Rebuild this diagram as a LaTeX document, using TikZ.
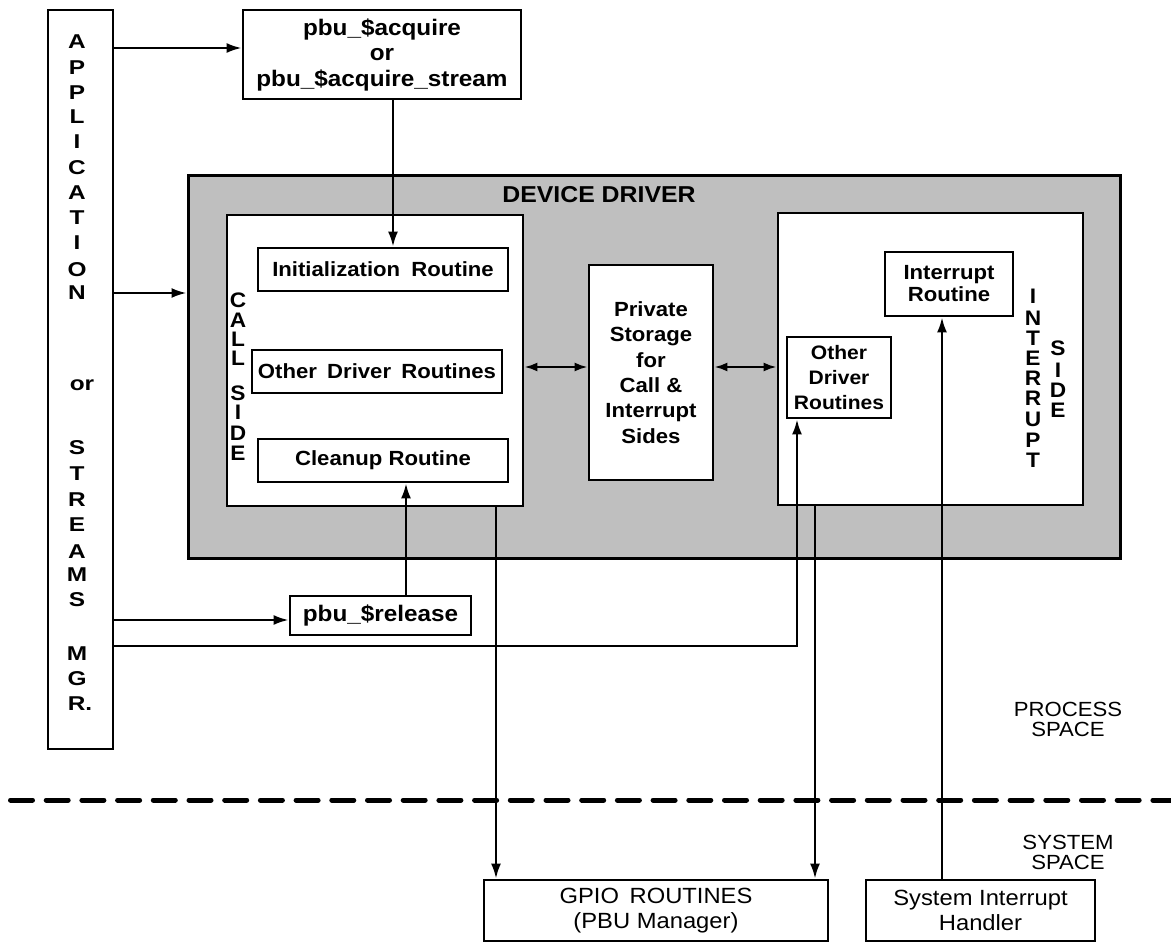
\documentclass[tikz,border=0pt]{standalone}
\usepackage{fontspec}
\setmainfont{Liberation Sans}[FakeStretch=1.08]
\newfontfamily\widefont{Liberation Sans}[FakeStretch=1.22]
\usetikzlibrary{arrows.meta,calc}
\begin{document}
\begin{tikzpicture}[x=1pt,y=-1pt,
  box/.style={draw,line width=2.8pt,fill=white,inner sep=0pt,align=center,rectangle},
  arr/.style={line width=2.3pt,-{Latex[length=15pt,width=10pt]}},
  darr/.style={line width=2.3pt,{Latex[length=13pt,width=9pt]}-{Latex[length=13pt,width=9pt]}},
  bigbf/.style={font=\fontsize{22.5}{25.5}\selectfont\bfseries},
  midbf/.style={font=\fontsize{20.5}{25.3}\selectfont\bfseries},
  reg/.style={font=\fontsize{22}{25}\selectfont},
  spacelbl/.style={font=\fontsize{20.5}{20}\selectfont,align=center,inner sep=0pt},
  vlet/.style={font=\widefont\fontsize{20}{20}\selectfont\bfseries,inner sep=0pt},
  slet/.style={font=\fontsize{21}{20}\selectfont\bfseries,inner sep=0pt},
  dashline/.style={line width=5pt,dash pattern=on 22pt off 13.7pt,line cap=round}
]
\useasboundingbox (0,0) rectangle (1171,944);

% device driver outer shaded box
\node[draw,line width=3pt,fill=black!25,inner sep=0pt,minimum width=932pt,minimum height=382pt] (dd) at (654,367) {};
\node[font=\fontsize{23}{24}\selectfont\bfseries,inner sep=0pt] (ddlbl) at (599,195) {DEVICE DRIVER};

% application column
\node[box,minimum width=65pt,minimum height=739pt] (app) at (80.5,379.5) {};
\foreach \l/\y [count=\i] in {A/42,P/68,P/93,L/117,I/142,C/168,A/193,T/218,I/243,O/270,N/293,S/448,T/474,R/500,E/525,A/552,M/575,S/600,M/654,G/679}
  \node[vlet] (app-\i) at (77,\y) {\l};
\node[vlet] (app-r) at (80,704) {R.};
\node[vlet] (app-or) at (82,385) {or};

% acquire box
\node[box,bigbf,minimum width=278pt,minimum height=89pt] (acq) at (382,54.5) {pbu\_\$acquire\\or\\pbu\_\$acquire\_stream};

% call side
\node[box,minimum width=296pt,minimum height=291pt] (cs) at (375,360.5) {};
\node[box,midbf,minimum width=250pt,minimum height=43pt] (init) at (383,269.5) {Initialization\hspace{5pt} Routine};
\node[box,midbf,minimum width=250pt,minimum height=43pt] (odr) at (377,371.5) {Other\hspace{4pt} Driver\hspace{4pt} Routines};
\node[box,midbf,minimum width=250pt,minimum height=43pt] (clean) at (383,460.5) {Cleanup Routine};
\foreach \l/\y [count=\i] in {C/300,A/320,L/339,L/358,S/393,I/412,D/433,E/453}
  \node[slet] (cs-\i) at (238,\y) {\l};

% private storage
\node[box,midbf,minimum width=124pt,minimum height=215pt] (priv) at (651,372.5) {Private\\Storage\\for\\Call \&\\Interrupt\\Sides};

% interrupt side
\node[box,minimum width=305pt,minimum height=292pt] (is) at (930.5,359) {};
\node[box,font=\fontsize{20.5}{22}\selectfont\bfseries,minimum width=128pt,minimum height=64pt] (ir) at (949,284) {Interrupt\\Routine};
\node[box,font=\fontsize{19.5}{25}\selectfont\bfseries,minimum width=104pt,minimum height=81pt] (odr2) at (839,377.5) {Other\\Driver\\Routines};
\foreach \l/\y [count=\i] in {I/296,N/318,T/338,E/358,R/378,R/398,U/419,P/440,T/460}
  \node[slet] (int-\i) at (1033,\y) {\l};
\foreach \l/\y [count=\i] in {S/348,I/370,D/390,E/410}
  \node[slet] (side-\i) at (1058,\y) {\l};

% release
\node[box,bigbf,minimum width=181pt,minimum height=39pt] (rel) at (380.5,615.5) {pbu\_\$release};

% bottom boxes
\node[box,reg,minimum width=344pt,minimum height=61pt] (gpio) at (656,910.5) {GPIO\hspace{4pt} ROUTINES\\(PBU Manager)};
\node[box,reg,minimum width=229pt,minimum height=61pt] (sih) at (980.5,910.5) {System Interrupt\\Handler};

% space labels
\node[spacelbl] (proc) at (1068,719) {PROCESS\\SPACE};
\node[spacelbl] (sys) at (1068,852) {SYSTEM\\SPACE};

% dashed boundary
\coordinate (dl) at (10.5,800);
\coordinate (dr) at (1175,800);
\draw[dashline] (dl) -- (dr);

% connectors
\coordinate (yAcq) at (0,48);
\draw[arr] (app.east |- yAcq) -- (acq.west |- yAcq);
\coordinate (xAcq) at (393,0);
\draw[arr] (acq.south -| xAcq) -- (init.north -| xAcq);
\coordinate (yDD) at (0,293);
\draw[arr] (app.east |- yDD) -- (dd.west |- yDD);
\coordinate (yPS) at (0,367);
\draw[darr] (cs.east |- yPS) -- (priv.west |- yPS);
\draw[darr] (priv.east |- yPS) -- (is.west |- yPS);
\coordinate (yRel) at (0,620);
\draw[arr] (app.east |- yRel) -- (rel.west |- yRel);
\coordinate (xRel) at (406,0);
\draw[arr] (rel.north -| xRel) -- (clean.south -| xRel);
\coordinate (yOdr) at (0,646);
\coordinate (xOdr) at (797,0);
\draw[arr] (app.east |- yOdr) -| (odr2.south -| xOdr);
\coordinate (xG1) at (496,0);
\draw[arr] (cs.south -| xG1) -- (gpio.north -| xG1);
\coordinate (xG2) at (815,0);
\draw[arr] (is.south -| xG2) -- (gpio.north -| xG2);
\coordinate (xIR) at (942,0);
\draw[arr] (sih.north -| xIR) -- (ir.south -| xIR);
\end{tikzpicture}
\end{document}
